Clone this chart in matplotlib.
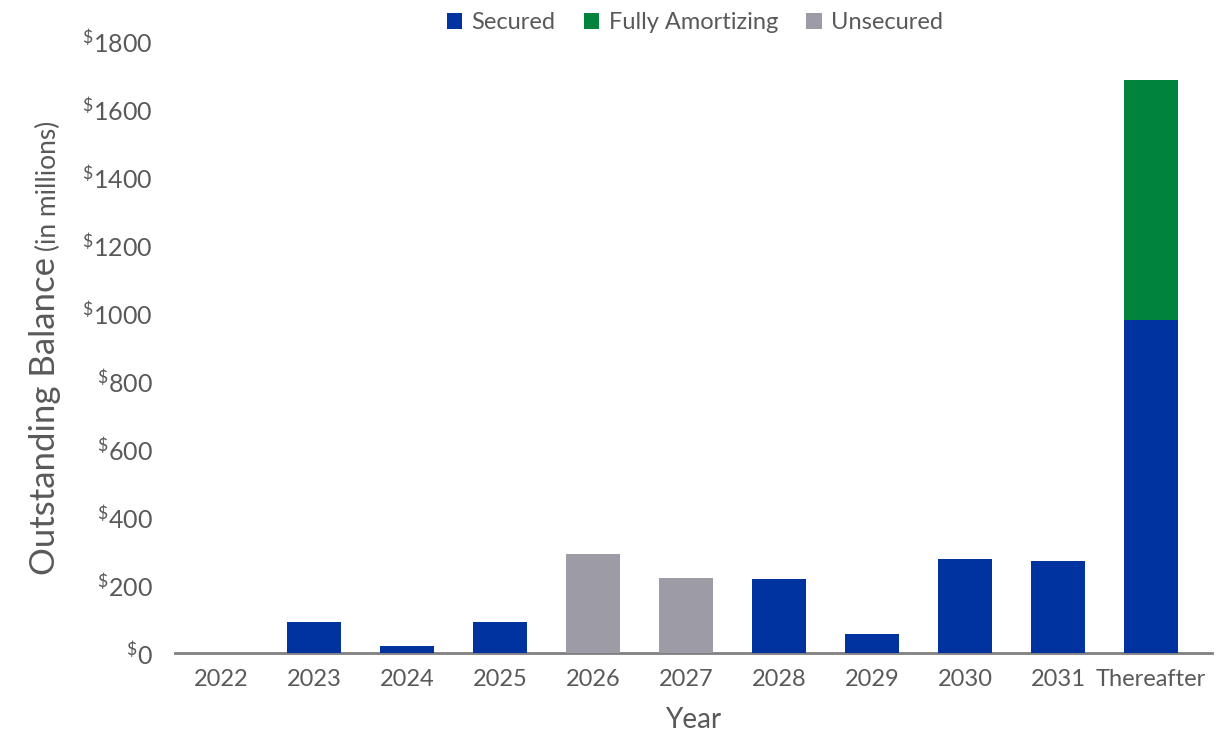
import matplotlib
matplotlib.use("Agg")
import matplotlib.pyplot as plt
import numpy as np
from matplotlib.ticker import FuncFormatter, MultipleLocator

plt.rcParams['font.family'] = ['Lato', 'DejaVu Sans']
plt.rcParams['mathtext.default'] = 'regular'

categories = ["2022", "2023", "2024", "2025", "2026", "2027", "2028", "2029", "2030", "2031", "Thereafter"]
secured = [0, 90, 20, 90, 0, 0, 218, 56, 276, 270, 980]
fully_amortizing = [0, 0, 0, 0, 0, 0, 0, 0, 0, 0, 705]
unsecured = [0, 0, 0, 0, 290, 220, 0, 0, 0, 0, 0]
series_names = ["Secured", "Fully Amortizing", "Unsecured"]
colors = ["#0033A0", "#00843D", "#9D9BA5"]
text_color = "#595959"

fig = plt.figure(figsize=(12.3, 7.36), dpi=100)
ax = fig.add_axes([0.142, 0.113, 0.843, 0.831])

x = np.arange(len(categories))
w = 0.58
sec = np.array(secured, dtype=float)
fa = np.array(fully_amortizing, dtype=float)
un = np.array(unsecured, dtype=float)
ax.bar(x, sec, width=w, color=colors[0], label=series_names[0], zorder=3)
ax.bar(x, fa, width=w, bottom=sec, color=colors[1], label=series_names[1], zorder=3)
ax.bar(x, un, width=w, bottom=sec + fa, color=colors[2], label=series_names[2], zorder=3)

ax.set_xlim(-0.5, len(categories) - 1 + 0.65)
ax.set_ylim(0, 1800)
ax.yaxis.set_major_locator(MultipleLocator(200))
ax.yaxis.set_major_formatter(FuncFormatter(lambda v, p: r'$^{\$}$' + f'{int(v)}'))
ax.set_xticks(x)
ax.set_xticklabels(categories)

for s in ['top', 'right', 'left']:
    ax.spines[s].set_visible(False)
ax.spines['bottom'].set_color('#808080')
ax.spines['bottom'].set_linewidth(2)
ax.spines['bottom'].set_zorder(2)
ax.tick_params(axis='both', length=0, labelcolor=text_color)
ax.tick_params(axis='y', pad=16, labelsize=18)
ax.tick_params(axis='x', pad=12, labelsize=17)

ax.set_xlabel("Year", fontsize=20, color=text_color, labelpad=12)

t1 = fig.text(0.050, 0.219, "Outstanding Balance", rotation=90, fontsize=25,
              color=text_color, ha='right', va='bottom')
ax.annotate("(in millions)", xy=(1.0, 1.0), xycoords=t1, xytext=(0, 4),
            textcoords='offset points', rotation=90, fontsize=19,
            color=text_color, ha='right', va='bottom', annotation_clip=False)

leg = fig.legend(loc='upper center', bbox_to_anchor=(0.565, 1.012), ncol=3,
                 frameon=False, fontsize=17, handlelength=0.65, handleheight=0.65,
                 handletextpad=0.4, columnspacing=1.2)
for t in leg.get_texts():
    t.set_color(text_color)

fig.savefig("out.png", dpi=100)
